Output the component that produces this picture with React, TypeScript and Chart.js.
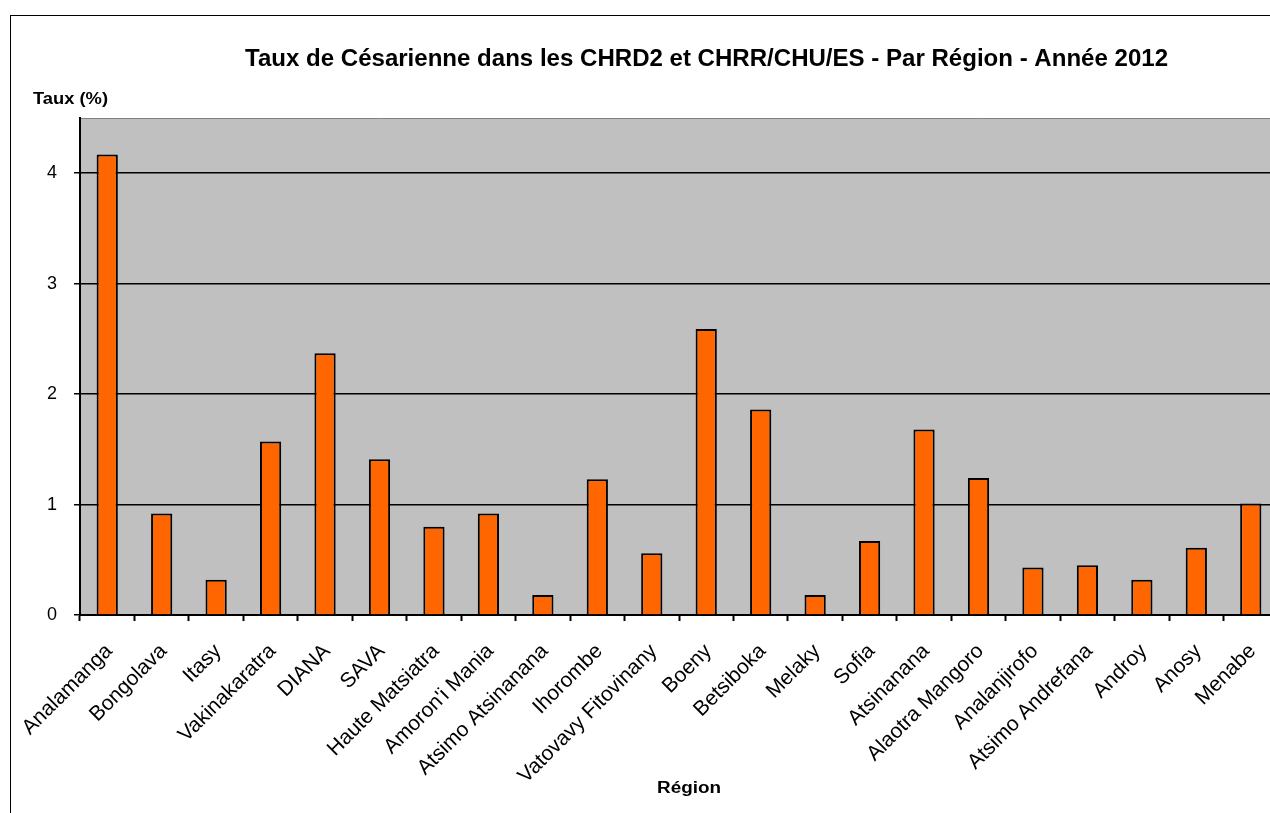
import React, { useEffect, useRef } from "react";
import { Chart, registerables } from "chart.js";

Chart.register(...registerables);

const regions = [
  "Analamanga",
  "Bongolava",
  "Itasy",
  "Vakinakaratra",
  "DIANA",
  "SAVA",
  "Haute Matsiatra",
  "Amoron'i Mania",
  "Atsimo Atsinanana",
  "Ihorombe",
  "Vatovavy Fitovinany",
  "Boeny",
  "Betsiboka",
  "Melaky",
  "Sofia",
  "Atsinanana",
  "Alaotra Mangoro",
  "Analanjirofo",
  "Atsimo Andrefana",
  "Androy",
  "Anosy",
  "Menabe",
];

const taux = [
  4.17, 0.92, 0.32, 1.57, 2.37, 1.41, 0.8, 0.92, 0.18, 1.23, 0.56, 2.59, 1.86,
  0.18, 0.67, 1.68, 1.24, 0.43, 0.45, 0.32, 0.61, 1.01,
];

const yTicks = [0, 1, 2, 3, 4];
const yMax = 4.5;

const titleText =
  "Taux de Césarienne dans les CHRD2 et CHRR/CHU/ES - Par Région - Année 2012";
const yAxisTitle = "Taux (%)";
const xAxisTitle = "Région";

const FONT = "'Liberation Sans', Arial, sans-serif";

function fitText(
  ctx: CanvasRenderingContext2D,
  text: string,
  font: string,
  x: number,
  y: number,
  width: number
) {
  ctx.save();
  ctx.font = font;
  ctx.fillStyle = "#000";
  ctx.textAlign = "left";
  ctx.textBaseline = "alphabetic";
  const w = ctx.measureText(text).width;
  ctx.translate(x, y);
  ctx.scale(width / w, 1);
  ctx.fillText(text, 0, 0);
  ctx.restore();
}

const decorPlugin = {
  id: "decor",
  beforeDraw(chart: any) {
    const { ctx, chartArea: a } = chart;
    ctx.save();
    ctx.fillStyle = "#ffffff";
    ctx.fillRect(0, 0, chart.width, chart.height);
    ctx.fillStyle = "#C0C0C0";
    ctx.fillRect(a.left, a.top, a.right - a.left, a.bottom - a.top);
    ctx.strokeStyle = "#808080";
    ctx.lineWidth = 1;
    ctx.beginPath();
    ctx.moveTo(a.left, a.top + 0.5);
    ctx.lineTo(a.right, a.top + 0.5);
    ctx.stroke();
    ctx.strokeStyle = "#000";
    ctx.lineWidth = 1;
    ctx.strokeRect(10.5, 15.5, chart.width + 100, chart.height + 100);
    ctx.restore();
    fitText(ctx, titleText, `bold 23px ${FONT}`, 245, 66, 923);
    fitText(ctx, yAxisTitle, `bold 16px ${FONT}`, 33, 104, 75);
    fitText(ctx, xAxisTitle, `bold 16px ${FONT}`, 657, 793, 64);
  },
};

export default function App() {
  const ref = useRef<HTMLCanvasElement>(null);

  useEffect(() => {
    if (!ref.current) return;
    Chart.defaults.font.family = FONT;
    const chart = new Chart(ref.current, {
      type: "bar",
      data: {
        labels: regions,
        datasets: [
          {
            label: "Taux",
            data: taux,
            backgroundColor: "#FF6600",
            borderColor: "#000000",
            borderWidth: 2,
            barPercentage: 0.39,
            categoryPercentage: 1,
          },
        ],
      },
      options: {
        responsive: false,
        animation: false,
        layout: { padding: { left: 0, top: 118, right: 2, bottom: 0 } },
        plugins: {
          legend: { display: false },
          title: { display: false },
          tooltip: { enabled: false },
        },
        scales: {
          x: {
            offset: true,
            grid: {
              display: true,
              drawOnChartArea: false,
              offset: true,
              color: "#000",
              tickLength: 6,
              tickWidth: 2,
            },
            border: { display: true, color: "#000", width: 2 },
            ticks: {
              color: "#000",
              font: { size: 21 },
              minRotation: 45,
              maxRotation: 45,
              autoSkip: false,
              padding: 18,
              labelOffset: 2,
            },
            afterFit(scale: any) {
              scale.height = 198;
              scale.paddingLeft = 0;
              scale.paddingRight = 0;
            },
          },
          y: {
            min: 0,
            max: yMax,
            grid: { color: "#000", lineWidth: 1.5, tickLength: 6 },
            border: { display: true, color: "#000", width: 2 },
            ticks: {
              color: "#000",
              font: { size: 18 },
              padding: 17,
              stepSize: 1,
            },
            afterBuildTicks(scale: any) {
              scale.ticks = yTicks.map((v) => ({ value: v }));
            },
            afterFit(scale: any) {
              scale.width = 80;
              scale.paddingTop = 0;
              scale.paddingBottom = 0;
            },
          },
        },
      },
      plugins: [decorPlugin],
    });
    return () => chart.destroy();
  }, []);

  return (
    <div
      style={{
        position: "fixed",
        left: 0,
        top: 0,
        width: 1270,
        height: 813,
        overflow: "hidden",
        background: "#fff",
      }}
    >
      <canvas ref={ref} width={1280} height={813} style={{ display: "block" }} />
    </div>
  );
}
